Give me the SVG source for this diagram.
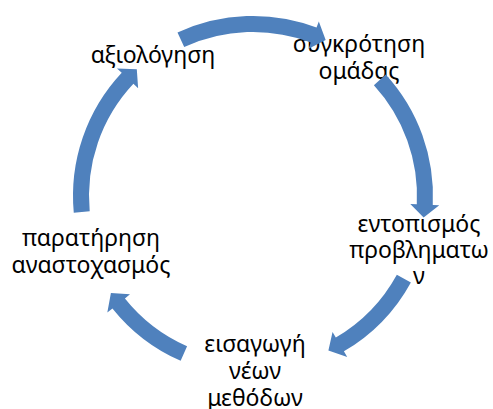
<svg xmlns="http://www.w3.org/2000/svg" width="493" height="409" viewBox="0 0 493 409">
<style>
.t{font-family:"Noto Sans","Open Sans","DejaVu Sans",sans-serif;font-size:23px;fill:#000;text-anchor:middle}
.a{fill:#4F81BD;stroke:none}
</style>
<rect width="493" height="409" fill="#fff"/>
<g id="node1"><text class="t" x="153" y="63">αξιολόγηση</text></g>
<g id="node2"><text class="t" x="359" y="52">συγκρότηση</text><text class="t" x="359" y="79">ομάδας</text></g>
<g id="node3"><text class="t" x="419" y="232">εντοπισμός</text><text class="t" x="419" y="258">προβληματω</text><text class="t" x="419" y="284">ν</text></g>
<g id="node4"><text class="t" x="255" y="352">εισαγωγή</text><text class="t" x="255" y="379">νέων</text><text class="t" x="255" y="406">μεθόδων</text></g>
<g id="node5"><text class="t" x="91" y="246">παρατήρηση</text><text class="t" x="91" y="273">αναστοχασμός</text></g>
<g id="connectors">
<path class="a" d="M177.50,32.60 A180,180 0 0 1 316.53,27.58 L318.82,21.50 L325.69,40.11 L308.59,48.64 L310.88,42.55 A164,164 0 0 0 184.21,47.12 Z"/>
<path class="a" d="M385.71,74.39 A180,180 0 0 1 432.78,205.01 L439.27,205.34 L423.64,217.56 L410.30,203.89 L416.80,204.21 A164,164 0 0 0 373.91,85.20 Z"/>
<path class="a" d="M410.89,282.44 A180,180 0 0 1 343.91,351.36 L347.19,356.97 L328.40,350.59 L332.54,331.94 L335.82,337.55 A164,164 0 0 0 396.85,274.76 Z"/>
<path class="a" d="M180.65,360.82 A180,180 0 0 1 112.42,308.41 L107.34,312.47 L110.91,292.93 L129.99,294.36 L124.92,298.42 A164,164 0 0 0 187.08,346.17 Z"/>
<path class="a" d="M73.77,212.63 A180,180 0 0 1 121.73,72.84 L116.99,68.39 L136.80,69.19 L138.14,88.24 L133.40,83.79 A164,164 0 0 0 89.70,211.15 Z"/>
</g>
</svg>
